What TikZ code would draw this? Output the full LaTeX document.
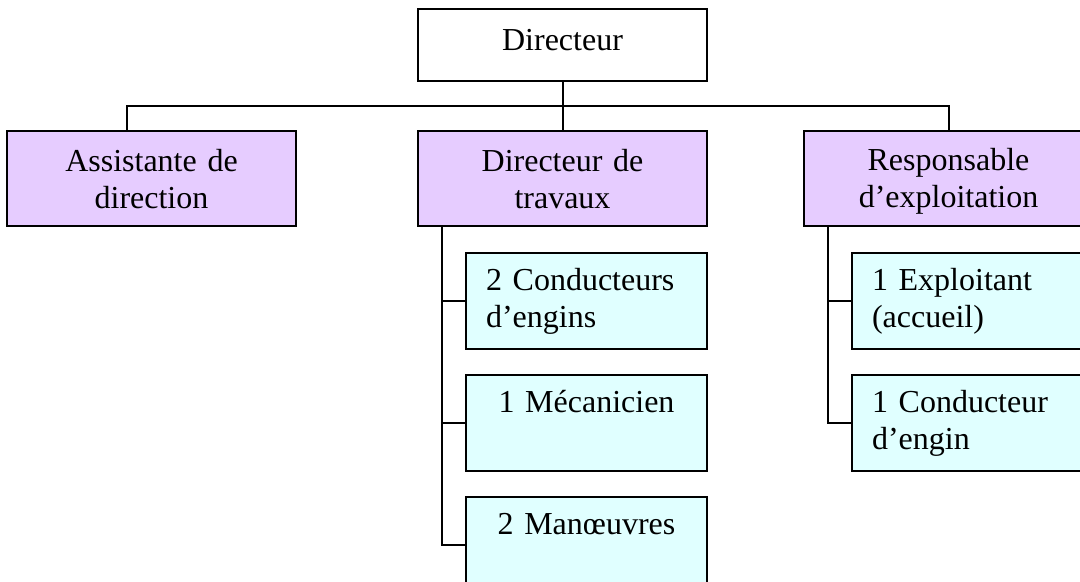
\documentclass[tikz,border=0pt]{standalone}
\usepackage{fontspec}
\setmainfont{Liberation Serif}
\usetikzlibrary{calc,positioning}

\definecolor{mgrfill}{RGB}{230,204,255}
\definecolor{stafffill}{RGB}{224,255,255}

\newcommand{\mgrstrut}{\rule[-2.4pt]{0pt}{16.4pt}}
\newcommand{\staffstrut}{\rule[-3.4pt]{0pt}{15pt}}

\tikzset{
  box/.style={draw,line width=1pt,inner sep=0pt,font=\fontsize{16}{18.4}\selectfont},
  head/.style={box,fill=white,minimum width=144.5pt,minimum height=36pt,anchor=north west,
    text height=12pt,text depth=6pt},
  mgr/.style={box,fill=mgrfill,minimum width=144.5pt,minimum height=47.5pt,text width=140pt,align=center,
    execute at begin node=\mgrstrut,execute at end node=\mgrstrut},
  staff/.style={box,fill=stafffill,minimum width=120.5pt,minimum height=48pt,text width=100.5pt,inner xsep=10pt,align=left,
    execute at begin node=\staffstrut,execute at end node=\staffstrut},
  link/.style={line width=1pt}
}

\begin{document}
\begin{tikzpicture}[x=0.5pt,y=-0.5pt]
\useasboundingbox (0,0) rectangle (1080,582);
\clip (0,0) rectangle (1080,582);

\node[head](dir) at (417,8){Directeur};
\node[mgr,below=24pt of dir](trav){Directeur de\\travaux};
\node[mgr,left=60pt of trav](asst){Assistante de\\direction};
\node[mgr,right=47.5pt of trav](resp){Responsable\\d'exploitation};

\node[staff,anchor=north west](cond) at ($(trav.south west)+(48,25)$){2 Conducteurs\\d'engins};
\node[staff,align=center,below=12pt of cond](meca){1 Mécanicien\\~};
\node[staff,align=center,below=12pt of meca](manu){2 Manœuvres\\~};

\node[staff,anchor=north west](expl) at ($(resp.south west)+(48,25)$){1 Exploitant\\(accueil)};
\node[staff,below=12pt of expl](condr){1 Conducteur\\d'engin};

% liaisons
\coordinate (busL) at ($(asst.north west)+(121,-24)$);
\draw[link] (dir.south) -- (dir.south |- busL);
\draw[link] (busL |- asst.north) -- (busL) -- (busL -| resp.north) -- (resp.north);
\draw[link] (trav.north |- busL) -- (trav.north);

\coordinate (travL) at ($(trav.south west)+(25,0)$);
\draw[link] (travL) |- (cond.west);
\draw[link] (travL) |- (meca.west);
\draw[link] (travL) |- (manu.west);

\coordinate (respL) at ($(resp.south west)+(25,0)$);
\draw[link] (respL) |- (expl.west);
\draw[link] (respL) |- (condr.west);

\end{tikzpicture}
\end{document}
